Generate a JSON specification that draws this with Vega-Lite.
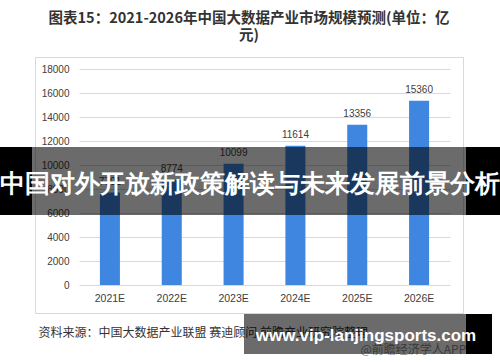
{
  "$schema": "https://vega.github.io/schema/vega-lite/v6.json",
  "autosize": "none",
  "width": 428,
  "height": 256,
  "padding": {"left": 35, "top": 57, "right": 37, "bottom": 49},
  "background": "white",
  "config": {"view": {"stroke": "#d9d9d9", "strokeWidth": 1}},
  "title": {
    "text": ["图表15：2021-2026年中国大数据产业市场规模预测(单位：亿", "元)"],
    "font": "Noto Sans CJK SC",
    "fontSize": 14.5,
    "fontWeight": "bold",
    "color": "#333333",
    "anchor": "middle",
    "lineHeight": 17,
    "offset": 14
  },
  "datasets": {
    "bars": [
      {"year": "2021E", "value": 7701},
      {"year": "2022E", "value": 8774},
      {"year": "2023E", "value": 10099},
      {"year": "2024E", "value": 11614},
      {"year": "2025E", "value": 13356},
      {"year": "2026E", "value": 15360}
    ],
    "under": [
      {"label": "@前瞻经济学人APP", "fx": 0.884, "fy": 1.145}
    ],
    "boxes": [
      {"part": "bigLeft", "x1": -0.09, "x2": -0.007, "y1": 0.3516, "y2": 0.6172, "shade": "black"},
      {"part": "bigMid", "x1": -0.007, "x2": 1.007, "y1": 0.3516, "y2": 0.6172, "shade": "gray"},
      {"part": "bigRight", "x1": 1.007, "x2": 1.09, "y1": 0.3516, "y2": 0.6172, "shade": "black"},
      {"part": "urlMid", "x1": 0.4883, "x2": 1.007, "y1": 1.0039, "y2": 1.1602, "shade": "gray"},
      {"part": "urlRight", "x1": 1.007, "x2": 1.0678, "y1": 1.0039, "y2": 1.1602, "shade": "black"}
    ],
    "overText": [
      {"label": "中国对外开放新政策解读与未来发展前景分析", "fx": 0.5023, "fy": 0.4961, "kind": "big"},
      {"label": "www.vip-lanjingsports.com", "fx": 0.7734, "fy": 1.0898, "kind": "url"}
    ]
  },
  "layer": [
    {
      "data": {"name": "bars"},
      "encoding": {
        "x": {
          "field": "year", "type": "ordinal",
          "scale": {"range": [44, 415], "paddingInner": 0.676, "paddingOuter": 0.338},
          "axis": {
            "orient": "bottom", "offset": -28, "domain": false, "ticks": false,
            "labelPadding": 8, "labelFont": "Liberation Sans", "labelFontSize": 10.5,
            "labelColor": "#404040", "labelAngle": 0,
            "title": "资料来源：中国大数据产业联盟 赛迪顾问 前瞻产业研究院整理",
            "titleFont": "Noto Sans CJK SC", "titleFontSize": 12, "titleFontWeight": "normal",
            "titleColor": "#333333", "titleAnchor": "start", "titleAlign": "left",
            "titleBaseline": "middle", "titleX": 3, "titleY": 47
          }
        },
        "y": {
          "field": "value", "type": "quantitative",
          "scale": {"domain": [0, 18000], "range": [228, 12], "nice": false},
          "axis": {
            "values": [0, 2000, 4000, 6000, 8000, 10000, 12000, 14000, 16000, 18000],
            "format": "d", "labelOverlap": false, "labelBound": false,
            "offset": -40, "domain": false, "ticks": false, "grid": true,
            "gridColor": "#d9d9d9", "gridWidth": 1, "labelPadding": 6,
            "labelFont": "Liberation Sans", "labelFontSize": 10, "labelColor": "#404040",
            "title": null
          }
        }
      },
      "layer": [
        {"mark": {"type": "bar", "color": "#3f86e0"}},
        {
          "mark": {"type": "text", "baseline": "bottom", "dy": -6, "font": "Liberation Sans", "fontSize": 10, "color": "#404040"},
          "encoding": {"text": {"field": "value", "type": "quantitative", "format": "d"}}
        }
      ]
    },
    {
      "layer": [
        {
          "data": {"name": "under"},
          "mark": {"type": "text", "font": "Noto Sans CJK SC", "fontSize": 12, "color": "#8a8a8a", "clip": false},
          "encoding": {
            "x": {"field": "fx", "type": "quantitative", "scale": {"domain": [0, 1], "zero": false, "nice": false}, "axis": null},
            "y": {"field": "fy", "type": "quantitative", "scale": {"domain": [0, 1], "reverse": true, "zero": false, "nice": false}, "axis": null},
            "text": {"field": "label"}
          }
        },
        {
          "data": {"name": "boxes"},
          "mark": {"type": "rect", "clip": false},
          "encoding": {
            "x": {"field": "x1", "type": "quantitative", "axis": null},
            "x2": {"field": "x2"},
            "y": {"field": "y1", "type": "quantitative", "axis": null},
            "y2": {"field": "y2"},
            "color": {"field": "shade", "type": "nominal", "scale": {"domain": ["black", "gray"], "range": ["#000000", "#000000"]}, "legend": null},
            "opacity": {"field": "shade", "type": "nominal", "scale": {"domain": ["black", "gray"], "range": [1, 0.58]}, "legend": null}
          }
        },
        {
          "data": {"name": "overText"},
          "mark": {"type": "text", "color": "white", "fontWeight": "bold", "clip": false, "baseline": "middle"},
          "encoding": {
            "x": {"field": "fx", "type": "quantitative", "axis": null},
            "y": {"field": "fy", "type": "quantitative", "axis": null},
            "text": {"field": "label"},
            "font": {"field": "kind", "type": "nominal", "scale": {"domain": ["big", "url"], "range": ["Noto Sans CJK SC", "Noto Sans"]}, "legend": null},
            "size": {"field": "kind", "type": "nominal", "scale": {"domain": ["big", "url"], "range": [25, 17]}, "legend": null}
          }
        }
      ]
    }
  ],
  "resolve": {"scale": {"x": "independent", "y": "independent"}}
}
